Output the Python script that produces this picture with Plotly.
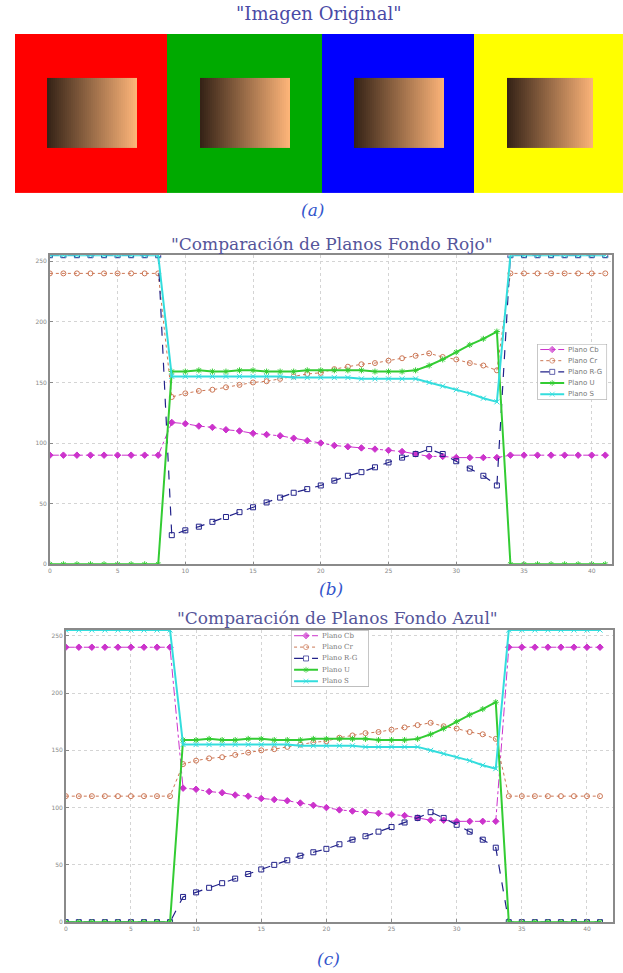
import numpy as np
import plotly.graph_objects as go

# ---------------- (a) original image description ----------------
panel_colors = [(255, 0, 0), (0, 170, 0), (0, 0, 255), (255, 255, 0)]
panel_edges = [0, 152, 308, 460, 610]          # image columns (px)
square_x = [(32, 122), (186, 276), (340, 431), (494, 581)]
square_y = (44, 114)
grad_dark = (52, 34, 22)
grad_light = (255, 182, 122)
img_w, img_h, step = 610, 160, 2

# ---------------- (b) / (c) profiles ----------------
x_pos = list(range(42))

cb_rojo = [90, 90, 90, 90, 90, 90, 90, 90, 90,
           117, 116, 114, 113, 111, 110, 108, 107, 106, 104, 102, 100, 98, 97, 96, 95, 94, 93, 91, 89, 89, 88, 88, 88, 88,
           90, 90, 90, 90, 90, 90, 90, 90]
cr_rojo = [240, 240, 240, 240, 240, 240, 240, 240, 240,
           138, 141, 143, 144, 146, 148, 150, 151, 153, 155, 157, 158, 161, 163, 165, 166, 168, 170, 172, 174, 171, 169, 166, 164, 160,
           240, 240, 240, 240, 240, 240, 240, 240]
rg_rojo = [255, 255, 255, 255, 255, 255, 255, 255, 255,
           24, 28, 31, 35, 39, 43, 47, 51, 55, 59, 62, 65, 69, 73, 76, 80, 84, 88, 91, 95, 91, 85, 79, 73, 65,
           255, 255, 255, 255, 255, 255, 255, 255]
u_rojo = [0, 0, 0, 0, 0, 0, 0, 0, 0,
          159, 159, 160, 159, 159, 160, 160, 159, 159, 159, 160, 160, 160, 160, 160, 159, 159, 159, 160, 164, 169, 175, 181, 186, 192,
          0, 0, 0, 0, 0, 0, 0, 0]
s_rojo = [255, 255, 255, 255, 255, 255, 255, 255, 255,
          155, 155, 155, 155, 155, 155, 155, 155, 155, 154, 154, 154, 154, 154, 153, 153, 153, 153, 153, 150, 147, 144, 141, 137, 134,
          255, 255, 255, 255, 255, 255, 255, 255]

cb_azul = [240, 240, 240, 240, 240, 240, 240, 240, 240,
           117, 116, 114, 113, 111, 110, 108, 107, 106, 104, 102, 100, 98, 97, 96, 95, 94, 93, 91, 89, 89, 88, 88, 88, 88,
           240, 240, 240, 240, 240, 240, 240, 240]
cr_azul = [110, 110, 110, 110, 110, 110, 110, 110, 110,
           138, 141, 143, 144, 146, 148, 150, 151, 153, 155, 157, 158, 161, 163, 165, 166, 168, 170, 172, 174, 171, 169, 166, 164, 160,
           110, 110, 110, 110, 110, 110, 110, 110]
rg_azul = [0, 0, 0, 0, 0, 0, 0, 0, 0,
           22, 26, 30, 34, 38, 42, 46, 50, 54, 58, 61, 64, 68, 72, 75, 79, 83, 87, 91, 96, 91, 85, 79, 72, 65,
           0, 0, 0, 0, 0, 0, 0, 0]
u_azul = [0, 0, 0, 0, 0, 0, 0, 0, 0,
          159, 159, 160, 159, 159, 160, 160, 159, 159, 159, 160, 160, 160, 160, 160, 159, 159, 159, 160, 164, 169, 175, 181, 186, 192,
          0, 0, 0, 0, 0, 0, 0, 0]
s_azul = [255, 255, 255, 255, 255, 255, 255, 255, 255,
          155, 155, 155, 155, 155, 155, 155, 155, 155, 154, 154, 154, 154, 154, 153, 153, 153, 153, 153, 150, 147, 144, 141, 137, 134,
          255, 255, 255, 255, 255, 255, 255, 255]

series_names = ["Plano Cb", "Plano Cr", "Plano R-G", "Plano U", "Plano S"]
series_colors = ["#cc33cc", "#cc7755", "#22228a", "#33cc33", "#33dddd"]
series_dash = ["dashdot", "dot", "dash", "solid", "solid"]
series_width = [1, 1, 1.2, 2, 2]
series_symbol = ["diamond", "circle-open", "square-open", "asterisk-open", "x-thin-open"]
series_msize = [5, 5, 5, 5, 5]

x_ticks = [0, 5, 10, 15, 20, 25, 30, 35, 40]
y_ticks = [0, 50, 100, 150, 200, 250]

# ---------------- build image ----------------
W, H = img_w // step, img_h // step
img = np.zeros((H, W, 3), dtype=np.uint8)
cols = np.arange(W) * step + step / 2
rows = np.arange(H) * step + step / 2
for i, c in enumerate(panel_colors):
    m = (cols >= panel_edges[i]) & (cols < panel_edges[i + 1])
    img[:, m] = c
for (sx0, sx1) in square_x:
    m = (cols >= sx0) & (cols < sx1)
    t = (cols[m] - sx0) / (sx1 - sx0)
    grad = np.array(grad_dark)[None, :] * (1 - t[:, None]) + np.array(grad_light)[None, :] * t[:, None]
    rm = (rows >= square_y[0]) & (rows < square_y[1])
    for r in np.where(rm)[0]:
        img[r, m] = grad.astype(np.uint8)

fig = go.Figure()
fig.add_trace(go.Image(z=img, x0=step / 2, dx=step, y0=step / 2, dy=step,
                       xaxis="x", yaxis="y", zsmooth="fast", hoverinfo="skip"))


def add_series(data, xa, ya):
    for k, ys in enumerate(data):
        fig.add_trace(go.Scatter(
            x=x_pos, y=ys, name=series_names[k], mode="lines+markers",
            xaxis=xa, yaxis=ya, showlegend=False,
            line=dict(color=series_colors[k], dash=series_dash[k], width=series_width[k]),
            marker=dict(symbol=series_symbol[k], size=series_msize[k], color=series_colors[k],
                        line=dict(color=series_colors[k], width=1)),
        ))


add_series([cb_rojo, cr_rojo, rg_rojo, u_rojo, s_rojo], "x2", "y2")
add_series([cb_azul, cr_azul, rg_azul, u_azul, s_azul], "x3", "y3")


# custom compact legends (pixel-unit axes covering the legend box)
def add_legend(xa, ya, bw, bh, font_family):
    fig.add_trace(go.Scatter(x=[0, bw, bw, 0, 0], y=[0, 0, bh, bh, 0], mode="lines",
                             fill="toself", fillcolor="white",
                             line=dict(color="#9a9a9a", width=1),
                             xaxis=xa, yaxis=ya, showlegend=False, hoverinfo="skip"))
    rowh = bh / 5.0
    for k in range(5):
        yc = rowh * (k + 0.5)
        fig.add_trace(go.Scatter(
            x=[3, 15, 27], y=[yc, yc, yc], mode="lines+markers",
            xaxis=xa, yaxis=ya, showlegend=False, hoverinfo="skip",
            line=dict(color=series_colors[k], dash=series_dash[k], width=series_width[k]),
            marker=dict(symbol=series_symbol[k], size=[0, series_msize[k], 0],
                        color=series_colors[k], line=dict(color=series_colors[k], width=1)),
        ))
        fig.add_annotation(text=series_names[k], x=29, y=yc, xref=xa, yref=ya,
                           showarrow=False, xanchor="left", yanchor="middle",
                           font=dict(size=7, color="#777777", family=font_family))


add_legend("x4", "y4", 70, 56, "DejaVu Sans")
add_legend("x5", "y5", 78, 57, "DejaVu Serif")

axis_common = dict(showgrid=True, gridcolor="#d4d4d4", griddash="dot", gridwidth=1,
                   showline=True, linecolor="#8a8a8a", linewidth=1.5, mirror=True,
                   ticks="inside", ticklen=3, tickcolor="#8a8a8a",
                   tickfont=dict(size=6, color="#888888", family="DejaVu Sans"),
                   zeroline=False)
hidden = dict(visible=False, showgrid=False, zeroline=False, fixedrange=True)

fig.update_layout(
    width=623, height=973, margin=dict(l=0, r=0, t=0, b=0),
    paper_bgcolor="white", plot_bgcolor="white",
    xaxis=dict(domain=[13 / 623, 1.0], range=[0, img_w], visible=False, anchor="y"),
    yaxis=dict(domain=[1 - 194 / 973, 1 - 34 / 973], range=[img_h, 0], visible=False, anchor="x"),
    xaxis2=dict(domain=[48 / 623, 612 / 623], range=[0, 41.5], anchor="y2",
                tickvals=x_ticks, **axis_common),
    yaxis2=dict(domain=[1 - 566 / 973, 1 - 256 / 973], range=[0, 255], anchor="x2",
                tickvals=y_ticks, **axis_common),
    xaxis3=dict(domain=[64 / 623, 613 / 623], range=[0, 42], anchor="y3",
                tickvals=x_ticks, **axis_common),
    yaxis3=dict(domain=[1 - 925 / 973, 1 - 632 / 973], range=[0, 255], anchor="x3",
                tickvals=y_ticks, **axis_common),
    xaxis4=dict(domain=[537 / 623, 607 / 623], range=[0, 70], anchor="y4", **hidden),
    yaxis4=dict(domain=[1 - 401 / 973, 1 - 345 / 973], range=[56, 0], anchor="x4", **hidden),
    xaxis5=dict(domain=[290 / 623, 368 / 623], range=[0, 78], anchor="y5", **hidden),
    yaxis5=dict(domain=[1 - 689 / 973, 1 - 632 / 973], range=[57, 0], anchor="x5", **hidden),
    showlegend=False,
)

title_font = dict(family="DejaVu Serif", size=17, color="#55559a")
top_font = dict(family="DejaVu Serif", size=18, color="#4a4aa6")
cap_font = dict(family="DejaVu Serif", size=17, color="#3355cc", style="italic")
annots = [
    ("\"Imagen Original\"", 318, 14, top_font),
    ("(a)", 312, 211, cap_font),
    ("\"Comparación de Planos Fondo Rojo\"", 331, 245, title_font),
    ("(b)", 330, 591, cap_font),
    ("\"Comparación de Planos Fondo Azul\"", 337, 620, title_font),
    ("(c)", 328, 962, cap_font),
]
for text, px, py, f in annots:
    fig.add_annotation(text=text, x=px / 623, y=1 - py / 973, xref="paper", yref="paper",
                       showarrow=False, font=f, xanchor="center", yanchor="middle")

fig.write_html("out.html", config={"displayModeBar": False},
               post_script="document.body.style.margin='0px';document.body.style.overflow='hidden';")
